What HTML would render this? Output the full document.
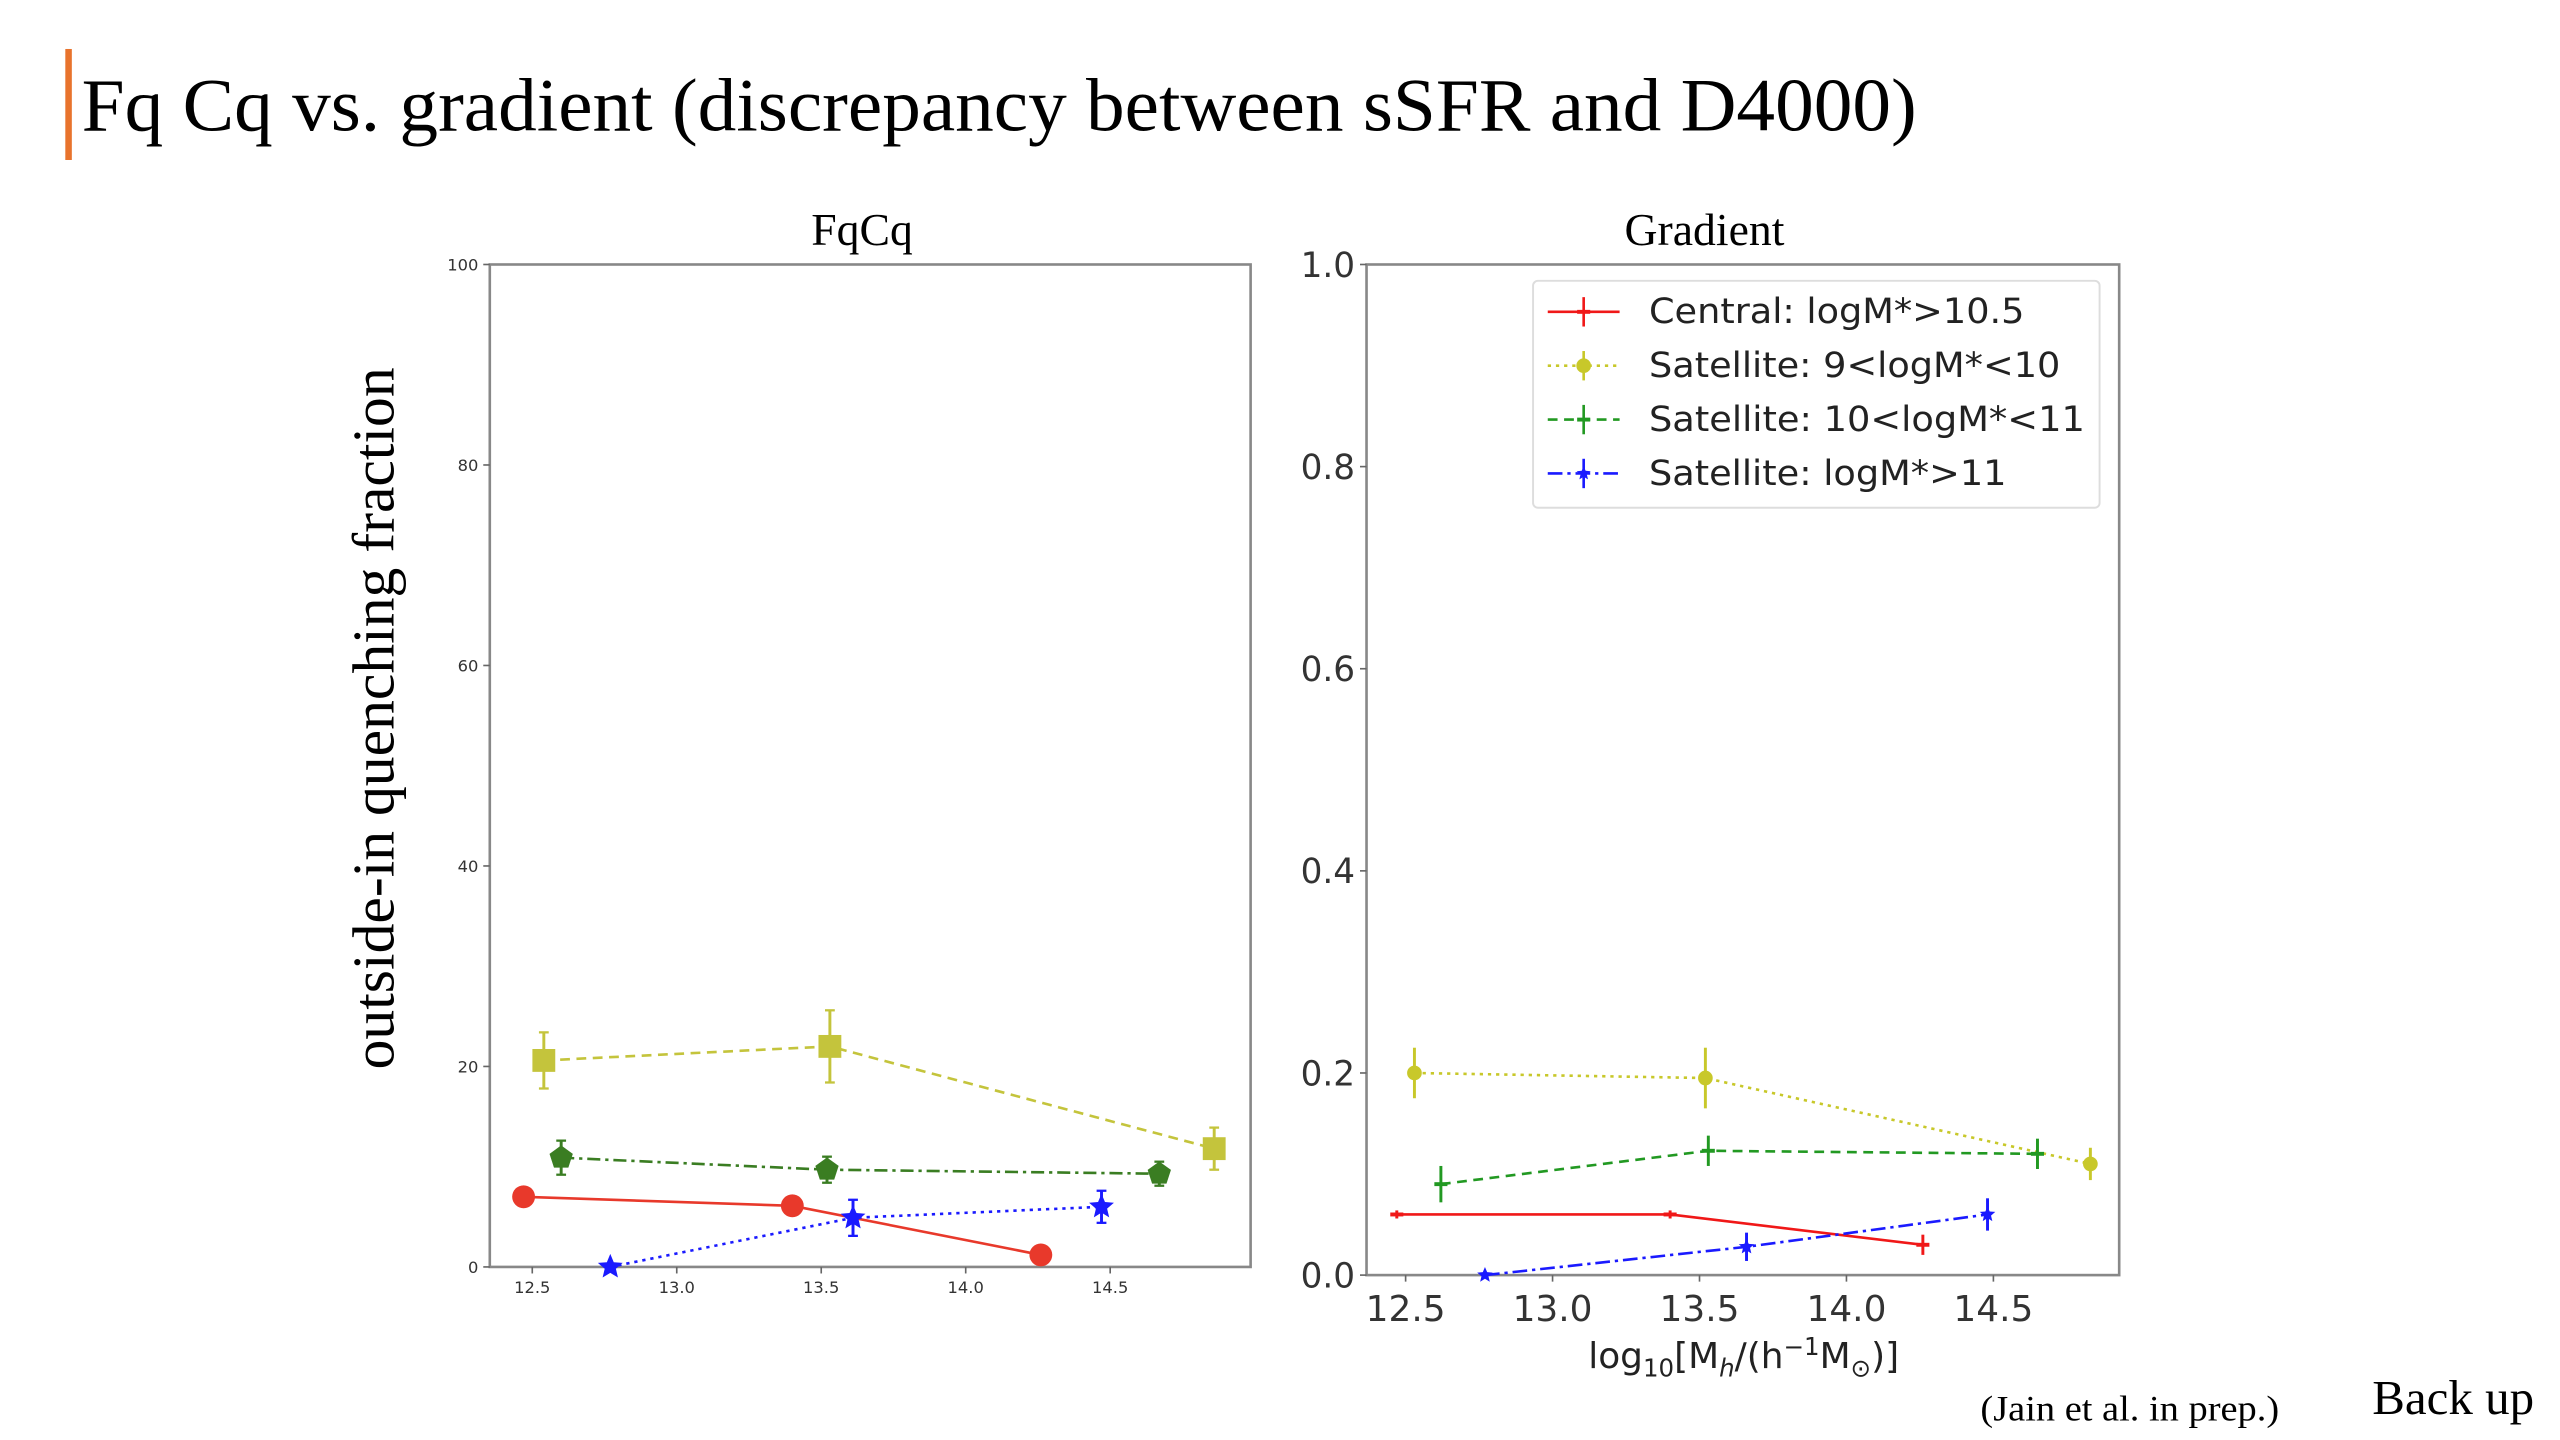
<!DOCTYPE html>
<html><head><meta charset="utf-8"><style>
html,body{margin:0;padding:0;background:#fff;width:2560px;height:1440px;overflow:hidden}
svg{display:block}
.serif{font-family:"Liberation Serif",serif}
.sans{font-family:"DejaVu Sans","Liberation Sans",sans-serif}
</style></head><body>
<svg id="s" width="2560" height="1440" viewBox="0 0 1568 882" xmlns="http://www.w3.org/2000/svg">
<rect x="40" y="30" width="4" height="68" fill="#e8732d"/>
<text class="serif" x="50" y="80" font-size="46" textLength="1124" lengthAdjust="spacingAndGlyphs" fill="#000">Fq Cq vs. gradient (discrepancy between sSFR and D4000)</text>
<text class="serif" x="528" y="150" font-size="28" text-anchor="middle">FqCq</text>
<text class="serif" x="1044" y="150" font-size="28" text-anchor="middle">Gradient</text>
<text class="serif" transform="translate(241,440) rotate(-90)" font-size="36" textLength="430" lengthAdjust="spacingAndGlyphs" text-anchor="middle">outside-in quenching fraction</text>
<text class="sans" x="1068" y="838" font-size="22" text-anchor="middle" fill="#222">log<tspan font-size="15" dy="5">10</tspan><tspan dy="-5">[M</tspan><tspan font-size="15" dy="5" font-style="italic">h</tspan><tspan dy="-5">/(h</tspan><tspan font-size="15" dy="-8">−1</tspan><tspan dy="8">M</tspan><tspan font-size="15" dy="5">⊙</tspan><tspan dy="-5">)]</tspan></text>
<text class="serif" x="1213" y="870" font-size="22" textLength="183" lengthAdjust="spacingAndGlyphs">(Jain et al. in prep.)</text>
<text class="serif" x="1453" y="866" font-size="30">Back up</text>
<g id="left"></g>
<g id="right"></g>
</svg>
<script>
// Left chart data (FqCq)
const leftXTicks = [12.5, 13.0, 13.5, 14.0, 14.5];
const leftXTickLabels = ["12.5", "13.0", "13.5", "14.0", "14.5"];
const leftYTicks = [0, 20, 40, 60, 80, 100];
const leftYTickLabels = ["0", "20", "40", "60", "80", "100"];
const leftCentralX = [12.47, 13.40, 14.26];
const leftCentralY = [7.0, 6.1, 1.2];
const leftCentralErr = [0, 0, 0];
const leftSat9X = [12.54, 13.53, 14.86];
const leftSat9Y = [20.6, 22.0, 11.8];
const leftSat9Err = [2.8, 3.6, 2.1];
const leftSat10X = [12.60, 13.52, 14.67];
const leftSat10Y = [10.9, 9.7, 9.3];
const leftSat10Err = [1.7, 1.3, 1.2];
const leftSat11X = [12.77, 13.61, 14.47];
const leftSat11Y = [0.0, 4.9, 6.0];
const leftSat11Err = [0, 1.8, 1.6];
// Right chart data (Gradient)
const rightXTicks = [12.5, 13.0, 13.5, 14.0, 14.5];
const rightXTickLabels = ["12.5", "13.0", "13.5", "14.0", "14.5"];
const rightYTicks = [0, 0.2, 0.4, 0.6, 0.8, 1.0];
const rightYTickLabels = ["0.0", "0.2", "0.4", "0.6", "0.8", "1.0"];
const rightCentralX = [12.47, 13.40, 14.26];
const rightCentralY = [0.060, 0.060, 0.030];
const rightCentralErr = [0.004, 0.004, 0.010];
const rightSat9X = [12.53, 13.52, 14.83];
const rightSat9Y = [0.200, 0.195, 0.110];
const rightSat9Err = [0.025, 0.030, 0.016];
const rightSat10X = [12.62, 13.53, 14.65];
const rightSat10Y = [0.090, 0.123, 0.120];
const rightSat10Err = [0.018, 0.015, 0.015];
const rightSat11X = [12.77, 13.66, 14.48];
const rightSat11Y = [0.0, 0.028, 0.060];
const rightSat11Err = [0, 0.014, 0.016];
const legendLabels = ["Central: logM*>10.5", "Satellite: 9<logM*<10", "Satellite: 10<logM*<11", "Satellite: logM*>11"];

const NS = "http://www.w3.org/2000/svg";
function mk(parent, tag, attrs) {
  const e = document.createElementNS(NS, tag);
  for (const k in attrs) e.setAttribute(k, attrs[k]);
  parent.appendChild(e);
  return e;
}
function star(cx, cy, r) {
  let p = [];
  for (let i = 0; i < 10; i++) {
    const a = -Math.PI / 2 + i * Math.PI / 5, rr = i % 2 ? r * 0.45 : r;
    p.push((cx + rr * Math.cos(a)).toFixed(2) + "," + (cy + rr * Math.sin(a)).toFixed(2));
  }
  return p.join(" ");
}
function pent(cx, cy, r) {
  let p = [];
  for (let i = 0; i < 5; i++) {
    const a = -Math.PI / 2 + i * 2 * Math.PI / 5;
    p.push((cx + r * Math.cos(a)).toFixed(2) + "," + (cy + r * Math.sin(a)).toFixed(2));
  }
  return p.join(" ");
}
function marker(g, kind, x, y, color, size) {
  let e;
  if (kind === "circle") e = mk(g, "circle", {cx: x, cy: y, r: size, fill: color});
  else if (kind === "square") e = mk(g, "rect", {x: x - size, y: y - size, width: 2 * size, height: 2 * size, fill: color});
  else if (kind === "pent") e = mk(g, "polygon", {points: pent(x, y, size), fill: color});
  else if (kind === "star") e = mk(g, "polygon", {points: star(x, y, size), fill: color});
  else if (kind === "plus") e = mk(g, "rect", {x: x - size, y: y - 1.2, width: 2 * size, height: 2.4, fill: color});
  return e;
}
function chart(cfg) {
  const g = document.getElementById(cfg.id);
  const sx = v => cfg.x0 + (v - cfg.xmin) / (cfg.xmax - cfg.xmin) * (cfg.x1 - cfg.x0);
  const sy = v => cfg.y1 - (v - cfg.ymin) / (cfg.ymax - cfg.ymin) * (cfg.y1 - cfg.y0);
  const frame = mk(g, "rect", {x: cfg.x0, y: cfg.y0, width: cfg.x1 - cfg.x0, height: cfg.y1 - cfg.y0, fill: "none", stroke: "#888", "stroke-width": 1.6});
  
  
  cfg.xt.forEach((t, i) => {
    const x = sx(t);
    mk(g, "line", {x1: x, x2: x, y1: cfg.y1, y2: cfg.y1 + 4, stroke: "#666", "stroke-width": 1});
    const tx = mk(g, "text", {x: x, y: cfg.y1 + cfg.xfs + 6, "font-size": cfg.xfs, "text-anchor": "middle", fill: "#333", "class": "sans"});
    tx.textContent = cfg.xtl[i];
    
    
  });
  cfg.yt.forEach((t, i) => {
    const y = sy(t);
    mk(g, "line", {x1: cfg.x0 - 4, x2: cfg.x0, y1: y, y2: y, stroke: "#666", "stroke-width": 1});
    const tx = mk(g, "text", {x: cfg.x0 - 7, y: y + cfg.yfs * 0.36, "font-size": cfg.yfs, "text-anchor": "end", fill: "#333", "class": "sans"});
    tx.textContent = cfg.ytl[i];
    
    
  });
  cfg.series.forEach(s => {
    const sg = mk(g, "g", {});
    
    
    const pts = s.x.map((v, i) => sx(v).toFixed(2) + "," + sy(s.y[i]).toFixed(2)).join(" ");
    mk(sg, "polyline", {points: pts, fill: "none", stroke: s.color, "stroke-width": s.lw, "stroke-dasharray": s.dash});
    s.x.forEach((v, i) => {
      const x = sx(v), y = sy(s.y[i]);
      if (s.err[i] > 0) {
        const ya = sy(s.y[i] + s.err[i]), yb = sy(s.y[i] - s.err[i]);
        mk(sg, "line", {x1: x, x2: x, y1: ya, y2: yb, stroke: s.color, "stroke-width": 1.8});
        if (s.cap) {
          mk(sg, "line", {x1: x - 3, x2: x + 3, y1: ya, y2: ya, stroke: s.color, "stroke-width": 1.4});
          mk(sg, "line", {x1: x - 3, x2: x + 3, y1: yb, y2: yb, stroke: s.color, "stroke-width": 1.4});
        }
      }
      const m = marker(sg, s.marker, x, y, s.color, s.ms);
      
      
    });
  });
}
chart({id: "left", x0: 300, x1: 766, y0: 162, y1: 776, xmin: 12.353, xmax: 14.986, ymin: 0, ymax: 100,
  xt: leftXTicks, xtl: leftXTickLabels, yt: leftYTicks, ytl: leftYTickLabels, xfs: 10, yfs: 10,
  series: [
    {name: "left-series-central", x: leftCentralX, y: leftCentralY, err: leftCentralErr, color: "#e8392b", lw: 1.6, dash: "", marker: "circle", ms: 7, cap: true},
    {name: "left-series-sat-9-10", x: leftSat9X, y: leftSat9Y, err: leftSat9Err, color: "#c4c43c", lw: 1.6, dash: "6,4", marker: "square", ms: 7, cap: true},
    {name: "left-series-sat-10-11", x: leftSat10X, y: leftSat10Y, err: leftSat10Err, color: "#3a7d22", lw: 1.6, dash: "8,3,2,3", marker: "pent", ms: 7.5, cap: true},
    {name: "left-series-sat-11", x: leftSat11X, y: leftSat11Y, err: leftSat11Err, color: "#1a1aff", lw: 1.6, dash: "2,3", marker: "star", ms: 8, cap: true}
  ]});
chart({id: "right", x0: 837, x1: 1298, y0: 162, y1: 781, xmin: 12.367, xmax: 14.928, ymin: 0, ymax: 1,
  xt: rightXTicks, xtl: rightXTickLabels, yt: rightYTicks, ytl: rightYTickLabels, xfs: 22, yfs: 21,
  series: [
    {name: "right-series-central", x: rightCentralX, y: rightCentralY, err: rightCentralErr, color: "#f01818", lw: 1.6, dash: "", marker: "plus", ms: 4, cap: false},
    {name: "right-series-sat-9-10", x: rightSat9X, y: rightSat9Y, err: rightSat9Err, color: "#c8c82a", lw: 1.6, dash: "2,3", marker: "circle", ms: 4.5, cap: false},
    {name: "right-series-sat-10-11", x: rightSat10X, y: rightSat10Y, err: rightSat10Err, color: "#229922", lw: 1.6, dash: "6,4", marker: "plus", ms: 4, cap: false},
    {name: "right-series-sat-11", x: rightSat11X, y: rightSat11Y, err: rightSat11Err, color: "#1a1aff", lw: 1.6, dash: "9,3,2,3", marker: "star", ms: 5, cap: false}
  ]});
// legend
(function () {
  const g = document.getElementById("right");
  const lg = mk(g, "g", {});
  
  
  mk(lg, "rect", {x: 939, y: 172, width: 347, height: 139, rx: 3, fill: "#fff", stroke: "#ddd", "stroke-width": 1.2});
  const cols = ["#f01818", "#c8c82a", "#229922", "#1a1aff"];
  const dashes = ["", "2,3", "6,4", "9,3,2,3"];
  const kinds = ["plus", "circle", "plus", "star"];
  const widths = [230, 252, 267, 219];
  legendLabels.forEach((lab, i) => {
    const y = 191 + i * 33;
    const e = mk(lg, "g", {});
    
    
    mk(e, "line", {x1: 948, x2: 992, y1: y, y2: y, stroke: cols[i], "stroke-width": 1.6, "stroke-dasharray": dashes[i]});
    mk(e, "line", {x1: 970, x2: 970, y1: y - 9, y2: y + 9, stroke: cols[i], "stroke-width": 1.6});
    marker(e, kinds[i], 970, y, cols[i], kinds[i] === "plus" ? 4 : 4.5);
    const t = mk(e, "text", {x: 1010, y: y + 7, "font-size": 21, fill: "#222", "class": "sans", textLength: widths[i], lengthAdjust: "spacingAndGlyphs"});
    t.textContent = lab;
  });
})();
</script>
</body></html>
